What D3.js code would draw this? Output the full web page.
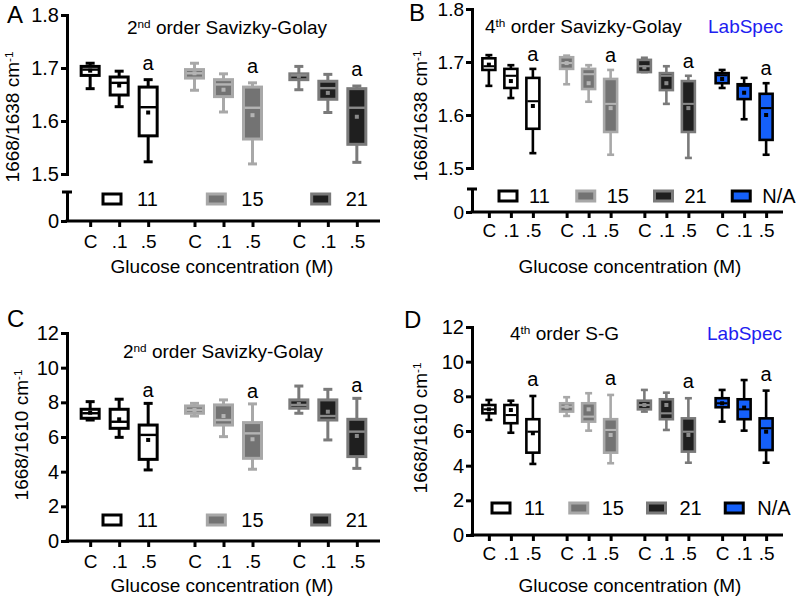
<!DOCTYPE html>
<html>
<head>
<meta charset="utf-8">
<script src="https://cdn.jsdelivr.net/npm/d3@7"></script>
<style>
  body { margin: 0; background: #fff; }
  svg { font-family: "Liberation Sans", Arial, sans-serif; }
</style>
</head>
<body>
<svg id="chart" width="800" height="598"></svg>
<script>
// x categories
const concentrations = ["C", ".1", ".5"];
const windows3 = ["11", "15", "21"];
const windows4 = ["11", "15", "21", "N/A"];

// box stats per concentration: [low whisker, q1, median, q3, high whisker, mean]
// A: 1668/1638, 2nd order S-G
const a11 = [[1.661, 1.686, 1.697, 1.703, 1.709, 1.695], [1.627, 1.649, 1.672, 1.683, 1.694, 1.667], [1.523, 1.572, 1.626, 1.664, 1.678, 1.616]];
const a15 = [[1.658, 1.681, 1.690, 1.697, 1.709, 1.690], [1.617, 1.646, 1.669, 1.678, 1.689, 1.659], [1.519, 1.566, 1.625, 1.664, 1.672, 1.611]];
const a21 = [[1.659, 1.678, 1.686, 1.689, 1.703, 1.685], [1.616, 1.641, 1.662, 1.675, 1.688, 1.653], [1.522, 1.556, 1.625, 1.661, 1.666, 1.608]];
// B: 1668/1638, 4th order S-G
const b11 = [[1.655, 1.685, 1.692, 1.707, 1.713, 1.695], [1.632, 1.651, 1.674, 1.687, 1.694, 1.664], [1.528, 1.574, 1.626, 1.670, 1.687, 1.617]];
const b15 = [[1.658, 1.687, 1.698, 1.709, 1.712, 1.698], [1.625, 1.649, 1.677, 1.687, 1.694, 1.660], [1.525, 1.568, 1.621, 1.668, 1.685, 1.613]];
const b21 = [[1.681, 1.681, 1.692, 1.704, 1.708, 1.690], [1.621, 1.647, 1.674, 1.679, 1.692, 1.660], [1.519, 1.568, 1.621, 1.664, 1.674, 1.613]];
const bNA = [[1.651, 1.660, 1.675, 1.679, 1.685, 1.668], [1.592, 1.630, 1.655, 1.658, 1.670, 1.642], [1.525, 1.553, 1.613, 1.640, 1.660, 1.600]];
// C: 1668/1610, 2nd order S-G
const c11 = [[6.98, 7.08, 7.37, 7.60, 8.04, 7.40], [5.98, 6.50, 6.88, 7.60, 8.18, 7.02], [4.10, 4.71, 6.12, 6.69, 7.94, 5.83]];
const c15 = [[7.21, 7.37, 7.56, 7.79, 7.94, 7.56], [6.02, 6.69, 6.98, 7.85, 8.14, 7.21], [4.14, 4.77, 6.21, 6.83, 7.91, 5.87]];
const c21 = [[7.37, 7.66, 7.85, 8.14, 8.94, 7.90], [5.83, 6.98, 7.21, 8.14, 8.75, 7.46], [4.19, 4.87, 6.31, 7.02, 8.23, 6.06]];
// D: 1668/1610, 4th order S-G
const d11 = [[6.64, 7.02, 7.25, 7.50, 7.79, 7.25], [5.90, 6.45, 6.92, 7.50, 7.75, 7.21], [4.10, 4.75, 5.96, 6.68, 8.02, 5.87]];
const d15 = [[6.87, 7.12, 7.40, 7.60, 7.95, 7.40], [6.02, 6.54, 6.83, 7.60, 8.18, 7.25], [4.14, 4.75, 6.06, 6.68, 8.08, 5.77]];
const d21 = [[7.12, 7.25, 7.50, 7.75, 8.37, 7.50], [6.06, 6.68, 7.02, 7.83, 8.21, 7.50], [4.17, 4.81, 5.96, 6.73, 7.89, 5.77]];
const dNA = [[6.54, 7.37, 7.60, 7.89, 8.37, 7.60], [6.02, 6.68, 7.25, 7.83, 8.94, 7.35], [4.17, 4.90, 6.16, 6.73, 8.33, 5.96]];

const ticksRatio1638 = [1.5, 1.6, 1.7, 1.8];
const ticksRatio1610 = [0, 2, 4, 6, 8, 10, 12];

// look of each smoothing window
const looks = {
    "11": {stroke: "#000", fill: "#fff", mid: "#000"},
    "15": {stroke: "#a8a8a8", fill: "#737373", mid: "#b4b4b4"},
    "21": {stroke: "#7a7a7a", fill: "#1f1f1f", mid: "#8a8a8a"},
    "N/A": {stroke: "#000", fill: "#1560fa", mid: "#000"}
};

const svg = d3.select("#chart");

function sup(text, main, s) {
    text.append("tspan").text(main);
    text.append("tspan").attr("baseline-shift", "super").attr("font-size", "0.62em").text(s);
}

function drawPanel(p) {
    const g = svg.append("g");

    // scales
    const x = d3.scaleBand().domain(p.groups).range([p.x0, p.x1]);
    const inner = d3.scalePoint().domain(concentrations).range([-p.spread, p.spread]);
    const y = d3.scaleLinear().domain(p.domain).range([p.yBottom, p.yTop]);

    // y axis (upper part)
    const yAxis = g.append("g")
        .attr("transform", `translate(${p.x0},0)`)
        .call(d3.axisLeft(y).tickValues(p.ticks).tickFormat(p.fmt).tickSize(6).tickSizeOuter(0).tickPadding(2));
    yAxis.select(".domain").attr("stroke-width", 3).attr("stroke-linecap", "square");
    yAxis.selectAll(".tick line").attr("stroke-width", 3);
    yAxis.selectAll(".tick text").attr("font-size", p.tickFont).attr("fill", "#000");

    // lower part of broken axis
    if (p.broken) {
        const y0 = d3.scaleLinear().domain([0, 1]).range([p.yZero, p.capY]);
        const low = g.append("g")
            .attr("transform", `translate(${p.x0},0)`)
            .call(d3.axisLeft(y0).tickValues([0]).tickFormat(d3.format("d")).tickSize(6).tickSizeOuter(0).tickPadding(2));
        low.select(".domain").attr("stroke-width", 3);
        low.selectAll(".tick line").attr("stroke-width", 3);
        low.selectAll(".tick text").attr("font-size", p.tickFont).attr("fill", "#000");
        low.append("line").attr("x1", -5).attr("x2", 5).attr("y1", y0(1)).attr("y2", y0(1))
            .attr("stroke", "#000").attr("stroke-width", 3);
    }

    // x baseline and per-group tick sets
    g.append("line")
        .attr("x1", p.x0 - 1.5).attr("x2", p.x1).attr("y1", p.yZero).attr("y2", p.yZero)
        .attr("stroke", "#000").attr("stroke-width", 3);
    p.groups.forEach(w => {
        const ax = g.append("g")
            .attr("transform", `translate(${x(w) + x.bandwidth() / 2},${p.yZero})`)
            .call(d3.axisBottom(inner).tickSize(6).tickPadding(p.xPad));
        ax.select(".domain").remove();
        ax.selectAll(".tick line").attr("stroke-width", 3);
        ax.selectAll(".tick text").attr("font-size", p.xFont).attr("fill", "#000");
    });

    // boxes
    p.groups.forEach((w, gi) => {
        const look = looks[w];
        const stats = p.data[gi];
        const cg = g.append("g");
        const box = cg.selectAll("g.box").data(stats).join("g").attr("class", "box")
            .attr("transform", (d, i) => `translate(${x(w) + x.bandwidth() / 2 + inner(concentrations[i])},0)`);
        box.append("line")
            .attr("y1", d => y(d[0])).attr("y2", d => y(d[4]))
            .attr("stroke", look.stroke).attr("stroke-width", p.sw);
        box.selectAll("line.cap").data(d => [d[0], d[4]]).join("line").attr("class", "cap")
            .attr("x1", -p.capW / 2).attr("x2", p.capW / 2)
            .attr("y1", v => y(v)).attr("y2", v => y(v))
            .attr("stroke", look.stroke).attr("stroke-width", p.sw);
        box.append("rect")
            .attr("x", -p.boxW / 2).attr("width", p.boxW)
            .attr("y", d => y(d[3])).attr("height", d => Math.max(0.5, y(d[1]) - y(d[3])))
            .attr("fill", look.fill).attr("stroke", look.stroke).attr("stroke-width", p.sw);
        box.append("line")
            .attr("x1", -p.boxW / 2 + 1).attr("x2", p.boxW / 2 - 1)
            .attr("y1", d => y(d[2])).attr("y2", d => y(d[2]))
            .attr("stroke", look.mid).attr("stroke-width", p.sw * 0.8);
        box.append("rect")
            .attr("x", -2).attr("width", 4).attr("height", 4)
            .attr("y", d => y(d[5]) - 2)
            .attr("fill", look.mid);
        // significance letter over the 0.5 M box
        box.filter((d, i) => i === 2).append("text")
            .attr("y", d => y(d[4]) - p.aGap)
            .attr("text-anchor", "middle").attr("font-size", 20).text("a");
    });

    // legend
    p.groups.forEach(w => {
        const look = looks[w];
        const lx = x(w) + p.legendOff;
        g.append("rect")
            .attr("x", lx).attr("y", p.legendY - p.legendH / 2)
            .attr("width", p.legendW).attr("height", p.legendH)
            .attr("fill", look.fill).attr("stroke", look.stroke).attr("stroke-width", 3);
        g.append("text")
            .attr("x", lx + p.legendW + p.legendGap).attr("y", p.legendY).attr("dy", "0.36em")
            .attr("font-size", 20).text(w);
    });

    // titles and labels
    const t = g.append("text").attr("x", p.titleX).attr("y", p.titleY)
        .attr("text-anchor", p.titleAnchor).attr("font-size", 19);
    sup(t, p.titleMain, p.titleSup);
    t.append("tspan").text(p.titleRest);
    if (p.labspec) {
        g.append("text").attr("x", p.labspecX).attr("y", p.titleY)
            .attr("font-size", 19).attr("fill", "#2020f0").text("LabSpec");
    }
    g.append("text").attr("x", p.letterX).attr("y", p.letterY)
        .attr("font-size", 24).text(p.letter);
    const yl = g.append("text")
        .attr("transform", `translate(${p.ylX},${p.ylY}) rotate(-90)`)
        .attr("text-anchor", "middle").attr("font-size", 19);
    sup(yl, p.yLabel, "-1");
    g.append("text").attr("x", p.xlX).attr("y", p.xlY)
        .attr("text-anchor", "middle").attr("font-size", 19)
        .text("Glucose concentration (M)");
}

drawPanel({
    letter: "A", letterX: 7, letterY: 23,
    groups: windows3, data: [a11, a15, a21],
    x0: 67, x1: 380, spread: 29, boxW: 18, capW: 9, sw: 3,
    domain: [1.5, 1.8], yBottom: 174, yTop: 15, ticks: ticksRatio1638, fmt: d3.format(".1f"),
    broken: true, capY: 192, yZero: 221,
    tickFont: 20, xFont: 19, xPad: 8, aGap: 10,
    legendOff: 36, legendY: 199, legendW: 18, legendH: 10, legendGap: 16,
    titleX: 227, titleY: 34, titleAnchor: "middle", titleMain: "2", titleSup: "nd", titleRest: " order Savizky-Golay",
    yLabel: "1668/1638 cm", ylX: 19, ylY: 117, xlX: 222, xlY: 273
});

drawPanel({
    letter: "B", letterX: 409, letterY: 21,
    groups: windows4, data: [b11, b15, b21, bNA],
    x0: 472, x1: 783, spread: 22, boxW: 13, capW: 7, sw: 2.6,
    domain: [1.5, 1.8], yBottom: 168, yTop: 9, ticks: ticksRatio1638, fmt: d3.format(".1f"),
    broken: true, capY: 189, yZero: 212,
    tickFont: 19, xFont: 19, xPad: 6, aGap: 8,
    legendOff: 27, legendY: 196, legendW: 18, legendH: 10, legendGap: 12,
    titleX: 485, titleY: 33, titleAnchor: "start", titleMain: "4", titleSup: "th", titleRest: " order Savizky-Golay",
    labspec: true, labspecX: 708,
    yLabel: "1668/1638 cm", ylX: 427, ylY: 116, xlX: 630, xlY: 273
});

drawPanel({
    letter: "C", letterX: 7, letterY: 327,
    groups: windows3, data: [c11, c15, c21],
    x0: 67, x1: 380, spread: 29, boxW: 18, capW: 9, sw: 3,
    domain: [0, 12], yBottom: 541, yTop: 333, ticks: ticksRatio1610, fmt: d3.format("d"),
    broken: false, yZero: 541,
    tickFont: 20, xFont: 19, xPad: 8, aGap: 6,
    legendOff: 36, legendY: 520, legendW: 18, legendH: 10, legendGap: 16,
    titleX: 223, titleY: 358, titleAnchor: "middle", titleMain: "2", titleSup: "nd", titleRest: " order Savizky-Golay",
    yLabel: "1668/1610 cm", ylX: 28, ylY: 435, xlX: 222, xlY: 592
});

drawPanel({
    letter: "D", letterX: 404, letterY: 328,
    groups: windows4, data: [d11, d15, d21, dNA],
    x0: 472, x1: 783, spread: 22, boxW: 13, capW: 7, sw: 2.6,
    domain: [0, 12], yBottom: 535, yTop: 327, ticks: ticksRatio1610, fmt: d3.format("d"),
    broken: false, yZero: 535,
    tickFont: 20, xFont: 19, xPad: 6, aGap: 10,
    legendOff: 20, legendY: 508, legendW: 18, legendH: 10, legendGap: 14,
    titleX: 510, titleY: 340, titleAnchor: "start", titleMain: "4", titleSup: "th", titleRest: " order S-G",
    labspec: true, labspecX: 707,
    yLabel: "1668/1610 cm", ylX: 427, ylY: 428, xlX: 630, xlY: 592
});
</script>
</body>
</html>
